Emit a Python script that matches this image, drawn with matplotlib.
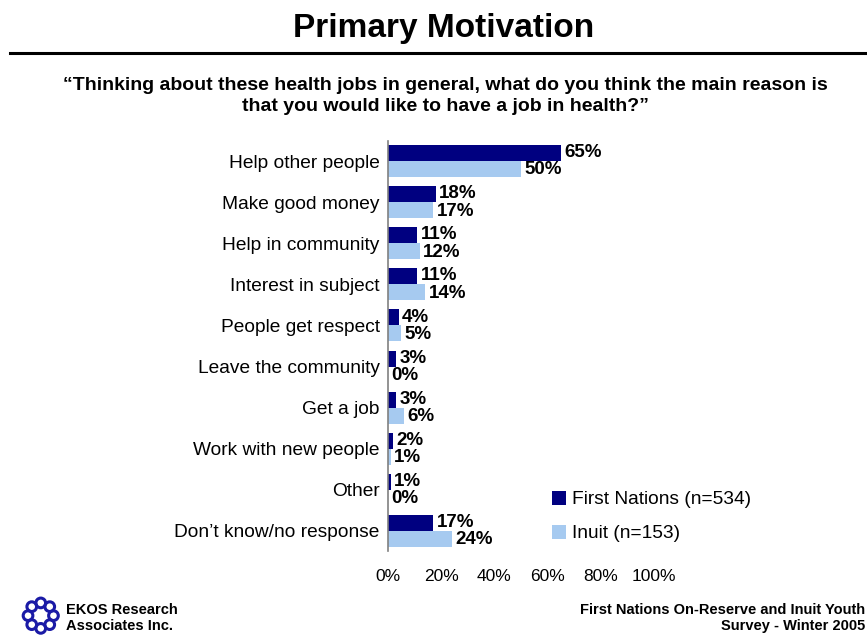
import matplotlib.pyplot as plt
import numpy as np

categories = ["Help other people", "Make good money", "Help in community",
              "Interest in subject", "People get respect", "Leave the community",
              "Get a job", "Work with new people", "Other", "Don\u2019t know/no response"]
first_nations = [65, 18, 11, 11, 4, 3, 3, 2, 1, 17]
inuit = [50, 17, 12, 14, 5, 0, 6, 1, 0, 24]
x_ticks = [0, 20, 40, 60, 80, 100]

dark = "#000080"
light = "#A6CAF0"

plt.rcParams['font.family'] = ['Liberation Sans', 'DejaVu Sans']

fig = plt.figure(figsize=(8.67, 6.36), dpi=100)

# header
fig.text(0.512, 0.955, "Primary Motivation", ha='center', va='center',
         fontsize=24, fontweight='bold')
fig.add_artist(plt.Line2D([0.012, 1.0], [0.917, 0.917], color='black', lw=2.2))
fig.text(0.514, 0.849, "\u201cThinking about these health jobs in general, what do you think the main reason is\n"
         "that you would like to have a job in health?\u201d", ha='center', va='center',
         fontsize=14, fontweight='bold', linespacing=1.25)

ax = fig.add_axes([0.4475, 0.133, 0.3068, 0.646])
y = np.arange(len(categories))
h = 0.39
ax.barh(y - h / 2, first_nations, height=h, color=dark, label="First Nations (n=534)")
ax.barh(y + h / 2, inuit, height=h, color=light, label="Inuit (n=153)")

for yi, v in zip(y, first_nations):
    ax.text(v + 1.3, yi - h / 2 - 0.01, f"{v}%", va='center', ha='left',
            fontsize=13.5, fontweight='bold')
for yi, v in zip(y, inuit):
    ax.text(v + 1.3, yi + h / 2 + 0.02, f"{v}%", va='center', ha='left',
            fontsize=13.5, fontweight='bold')

ax.set_xlim(0, 100)
ax.set_ylim(len(categories) - 0.5, -0.5)
ax.set_yticks(y)
ax.set_yticklabels(categories, fontsize=13.8)
ax.set_xticks(x_ticks)
ax.set_xticklabels([f"{t}%" for t in x_ticks], fontsize=12.5)
ax.tick_params(axis='y', length=0, pad=6)
ax.tick_params(axis='x', length=0, pad=13)
for s in ['top', 'right', 'bottom']:
    ax.spines[s].set_visible(False)
ax.spines['left'].set_color('#808080')
ax.spines['left'].set_linewidth(1.2)

ax.legend(loc='lower left', bbox_to_anchor=(0.55, -0.02), frameon=False,
          fontsize=13.8, handlelength=0.75, handleheight=0.75, handletextpad=0.3,
          labelspacing=0.85)

# footer logo: ring of small loops
lax = fig.add_axes([0.022, 0.0, 0.05, 0.064])
ang = np.linspace(0, 2 * np.pi, 8, endpoint=False)
for a in ang:
    cx, cy = np.cos(a), np.sin(a)
    lax.add_patch(plt.Circle((cx, cy), 0.38, fill=False, ec='#1a1aa6', lw=2.2))
lax.set_xlim(-1.6, 1.6)
lax.set_ylim(-1.6, 1.6)
lax.set_aspect('equal')
lax.axis('off')

fig.text(0.076, 0.028, "EKOS Research\nAssociates Inc.", ha='left', va='center',
         fontsize=10.5, fontweight='bold', linespacing=1.15)
fig.text(0.998, 0.028, "First Nations On-Reserve and Inuit Youth\nSurvey - Winter 2005",
         ha='right', va='center', fontsize=10.5, fontweight='bold', linespacing=1.15,
         multialignment='right')

fig.savefig("out.png", dpi=100)
